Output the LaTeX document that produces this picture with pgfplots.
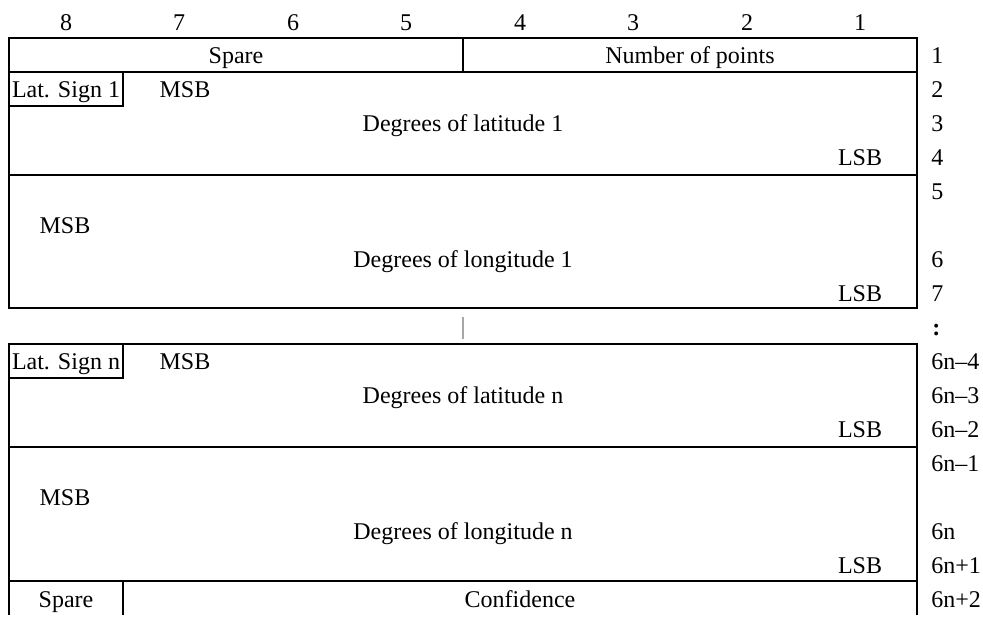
\documentclass[border=0pt]{standalone}
\usepackage{fontspec}
\setmainfont{Liberation Serif}
\usepackage{pgfplots}
\pgfplotsset{compat=1.18}

\begin{document}
\begin{tikzpicture}
\begin{axis}[
  width=491.5pt, height=307.5pt, scale only axis,
  xmin=0, xmax=983, ymin=0, ymax=615, y dir=reverse,
  hide axis, clip=false,
  frame/.style={black, solid, line width=1pt, line cap=rect, mark=none},
  nodes={font=\fontsize{12}{14}\selectfont, inner sep=0pt,
         text height=8pt, text depth=0pt}]

% keep the full canvas as bounding box
\path (axis cs:0,0) rectangle (axis cs:983,615);

% header row: Spare | Number of points
\addplot[frame] coordinates {(9,38) (917,38) (917,72) (9,72) (9,38)};
\addplot[frame] coordinates {(463,38) (463,72)};
% latitude 1 block and sign box
\addplot[frame] coordinates {(9,72) (917,72) (917,175) (9,175) (9,72)};
\addplot[frame] coordinates {(9,106) (123,106) (123,72)};
% longitude 1 block
\addplot[frame] coordinates {(9,175) (917,175) (917,308) (9,308) (9,175)};
% gap marker
\addplot[frame, gray!70, line cap=butt] coordinates {(463,317) (463,339)};
% latitude n block and sign box
\addplot[frame] coordinates {(9,344) (917,344) (917,447) (9,447) (9,344)};
\addplot[frame] coordinates {(9,378) (123,378) (123,344)};
% longitude n block
\addplot[frame] coordinates {(9,447) (917,447) (917,581) (9,581) (9,447)};
% last row: Spare | Confidence (open at the bottom edge)
\addplot[frame, line cap=butt] coordinates {(9,615) (9,581) (917,581) (917,615)};
\addplot[frame, line cap=butt] coordinates {(123,581) (123,615)};

% bit numbers
\node at (axis cs:66,22) {8};
\node at (axis cs:179,22) {7};
\node at (axis cs:293,22) {6};
\node at (axis cs:406,22) {5};
\node at (axis cs:520,22) {4};
\node at (axis cs:633,22) {3};
\node at (axis cs:747,22) {2};
\node at (axis cs:860,22) {1};

% field texts
\node at (axis cs:236,55) {Spare};
\node at (axis cs:690,55) {Number of points};
\node at (axis cs:66,89) {Lat. Sign 1};
\node at (axis cs:185,89) {MSB};
\node at (axis cs:463,123) {Degrees of latitude 1};
\node at (axis cs:860,157) {LSB};
\node at (axis cs:65,225) {MSB};
\node at (axis cs:463,259) {Degrees of longitude 1};
\node at (axis cs:860,293) {LSB};
\node at (axis cs:66,361) {Lat. Sign n};
\node at (axis cs:185,361) {MSB};
\node at (axis cs:463,395) {Degrees of latitude n};
\node at (axis cs:860,429) {LSB};
\node at (axis cs:65,497) {MSB};
\node at (axis cs:463,531) {Degrees of longitude n};
\node at (axis cs:860,565) {LSB};
\node at (axis cs:66,599) {Spare};
\node at (axis cs:520,599) {Confidence};

% octet numbers
\node[anchor=west] at (axis cs:931,55) {1};
\node[anchor=west] at (axis cs:931,89) {2};
\node[anchor=west] at (axis cs:931,123) {3};
\node[anchor=west] at (axis cs:931,157) {4};
\node[anchor=west] at (axis cs:931,191) {5};
\node[anchor=west] at (axis cs:931,259) {6};
\node[anchor=west] at (axis cs:931,293) {7};
\node[anchor=west] at (axis cs:932,327) {\textbf{:}};
\node[anchor=west] at (axis cs:931,361) {6n–4};
\node[anchor=west] at (axis cs:931,395) {6n–3};
\node[anchor=west] at (axis cs:931,429) {6n–2};
\node[anchor=west] at (axis cs:931,463) {6n–1};
\node[anchor=west] at (axis cs:931,531) {6n};
\node[anchor=west] at (axis cs:931,565) {6n+1};
\node[anchor=west] at (axis cs:931,599) {6n+2};
\end{axis}
\end{tikzpicture}
\end{document}
